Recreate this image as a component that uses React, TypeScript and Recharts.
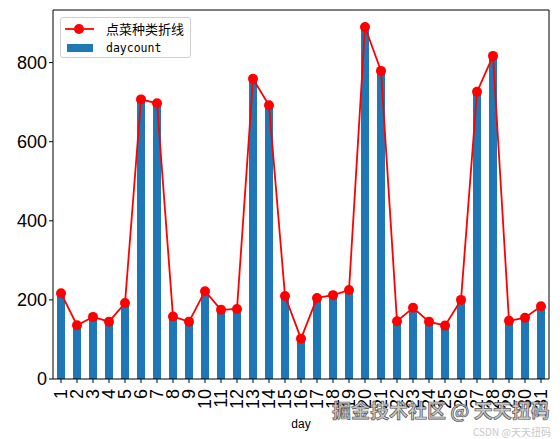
import React from 'react';
import { ComposedChart, Bar, Line, XAxis, YAxis, Legend } from 'recharts';

const days = ['1','2','3','4','5','6','7','8','9','10','11','12','13','14','15','16','17','18','19','20','21','22','23','24','25','26','27','28','29','30','31'];
const dayCounts = [217,136,157,145,192,707,697,158,145,222,175,177,759,692,210,102,205,212,225,890,779,146,180,145,135,200,726,817,147,155,184];
const yTicks = [0, 200, 400, 600, 800];
const lineName = '点菜种类折线';
const barName = 'daycount';

const data = days.map((d, i) => ({ day: d, daycount: dayCounts[i], kinds: dayCounts[i] }));

const FONT = '"Liberation Sans", Arial, sans-serif';

const XTick = (props: any) => {
  const { x, y, payload } = props;
  return (
    <g transform={`translate(${x},${y + 4}) rotate(-90)`}>
      <text textAnchor="end" dy="0.36em" fontSize={18} fontFamily={FONT} fill="#000">{payload.value}</text>
    </g>
  );
};

const YTick = (props: any) => {
  const { x, y, payload } = props;
  return (
    <text x={x} y={y} textAnchor="end" dy="0.36em" fontSize={18} fontFamily={FONT} fill="#000">{payload.value}</text>
  );
};

const LegendContent = () => (
  <div style={{ border: '1px solid #d0d0d0', borderRadius: 3, background: 'rgba(255,255,255,0.8)', width: 131, height: 41, boxSizing: 'border-box', position: 'relative' }}>
    <svg width={131} height={41} style={{ position: 'absolute', left: 0, top: 0 }}>
      <line x1={4} y1={11} x2={33} y2={11} stroke="#ff0000" strokeWidth={1.8} />
      <circle cx={18} cy={11} r={5} fill="#ff0000" />
      <rect x={6} y={26} width={26} height={8} fill="#1f77b4" />
      <text x={45} y={11} dy="0.36em" fontSize={13} fontFamily='"Noto Sans CJK SC", sans-serif' fill="#000">{lineName}</text>
      <text x={45} y={30} dy="0.36em" fontSize={11.5} fontFamily='"DejaVu Sans Mono", monospace' fill="#000">{barName}</text>
    </svg>
  </div>
);

export default function App() {
  return (
    <div style={{ position: 'absolute', left: 0, top: 0, width: 560, height: 439, background: '#fff' }}>
      <ComposedChart width={560} height={439} data={data} margin={{ top: 9, right: 10, left: 0, bottom: 0 }} barCategoryGap={0}>
        <XAxis
          dataKey="day"
          height={60}
          interval={0}
          tick={<XTick />}
          tickSize={4}
          tickLine={{ stroke: '#000' }}
          axisLine={{ stroke: '#000' }}
          label={{ value: 'day', position: 'insideBottom', offset: 11, fontSize: 12, fontFamily: FONT, fill: '#000' }}
        />
        <XAxis xAxisId="top" orientation="top" dataKey="day" height={1} tick={false} tickLine={false} axisLine={{ stroke: '#000' }} />
        <YAxis
          width={53}
          domain={[0, 933]}
          ticks={yTicks}
          tick={<YTick />}
          tickSize={4}
          tickLine={{ stroke: '#000' }}
          axisLine={{ stroke: '#000' }}
          allowDataOverflow
        />
        <YAxis yAxisId="right" orientation="right" width={1} domain={[0, 933]} tick={false} tickLine={false} axisLine={{ stroke: '#000' }} />
        <Bar dataKey="daycount" name={barName} fill="#1f77b4" barSize={8} isAnimationActive={false} />
        <Line dataKey="kinds" name={lineName} stroke="#ff0000" strokeWidth={1.8} dot={{ r: 5, fill: '#ff0000', stroke: 'none' }} activeDot={false} isAnimationActive={false} />
        <Legend layout="vertical" align="center" verticalAlign="middle" content={<LegendContent />} wrapperStyle={{ left: 60, top: 17, width: 131, height: 41 }} />
      </ComposedChart>
      <div style={{ position: 'absolute', left: 332, top: 399, fontSize: 19, fontFamily: '"Noto Sans CJK SC", sans-serif', color: '#c8c8c8', WebkitTextStroke: '0.7px #555', whiteSpace: 'nowrap', lineHeight: '22px', fontWeight: 700 }}>
        掘金技术社区 @ 天天扭码
      </div>
      <div style={{ position: 'absolute', left: 473, top: 425, fontSize: 10, fontFamily: '"Noto Sans CJK SC", sans-serif', color: '#c8c8c8', whiteSpace: 'nowrap', lineHeight: '14px' }}>
        CSDN @天天扭码
      </div>
    </div>
  );
}
